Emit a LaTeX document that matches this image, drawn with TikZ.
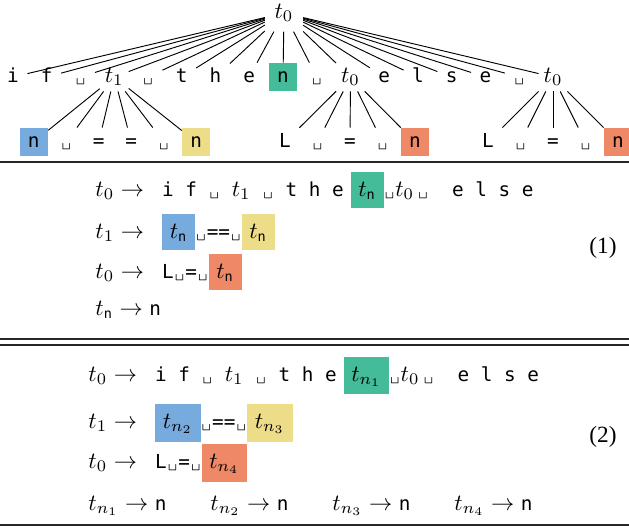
\documentclass[tikz,border=0pt]{standalone}
\usepackage{amsmath}
\usepackage{fontspec}
\setmonofont{DejaVu Sans Mono}[Scale=0.83]
\newfontfamily\lmtt{Latin Modern Mono}[Scale=0.72]
\newfontfamily\eqnfont{Liberation Serif}

\definecolor{tolmint}{HTML}{44BB99}
\definecolor{tolsky}{HTML}{77AADD}
\definecolor{tolsand}{HTML}{EEDD88}
\definecolor{tolcoral}{HTML}{EE8866}

\newcommand{\vs}{\makebox[5pt]{\lmtt\char"2423}}
\newcommand{\hl}[2]{{\setlength{\fboxsep}{3.3pt}\colorbox{#1}{\rule[-1.7pt]{0pt}{8.7pt}#2}}}

\begin{document}
\begin{tikzpicture}[
        x=0.43pt, y=-0.43pt,
        % tokens of the parse tree
        tok/.style={
            font=\ttfamily,
            minimum size=12pt,
            inner sep=0pt,
            text height=6pt,
            text depth=1.5pt
        },
        mint/.style={tok, fill=tolmint},
        sky/.style={tok, fill=tolsky},
        sand/.style={tok, fill=tolsand},
        coral/.style={tok, fill=tolcoral},
        % one rule of the grammar
        row/.style={font=\ttfamily, anchor=base west, inner sep=0pt},
        sep/.style={line width=0.7pt, black!85}
    ]
    \useasboundingbox (0,0) rectangle (629,527);

    % Parse tree
    \node[inner sep=4pt] (root) at (284,13) {$t_0$};
    \foreach \lab/\sty [count=\i] in {i/tok, f/tok, \vs/tok, {$t_1$}/tok, \vs/tok,
            t/tok, h/tok, e/tok, n/mint, \vs/tok, {$t_0$}/tok,
            e/tok, l/tok, s/tok, e/tok, \vs/tok, {$t_0$}/tok}
        \node[\sty] (a\i) at ({13+33.75*(\i-1)},77) {\lab};

    \foreach \lab/\sty [count=\j] in {n/sky, \vs/tok, =/tok, =/tok, \vs/tok, n/sand}
        \node[\sty] (b\j) at ({115+32.5*(\j-3.5)},142) {\lab};
    \foreach \lab/\sty [count=\j] in {L/tok, \vs/tok, =/tok, \vs/tok, n/coral}
        \node[\sty] (c\j) at ({350+32.5*(\j-3)},142) {\lab};
    \foreach \lab/\sty [count=\j] in {L/tok, \vs/tok, =/tok, \vs/tok, n/coral}
        \node[\sty] (d\j) at ({553+32.5*(\j-3)},142) {\lab};

    \foreach \i in {1,...,17}
        \draw (root) -- (a\i);
    \foreach \j in {1,...,6}
        \draw (a4) -- (b\j);
    \foreach \j in {1,...,5} {
        \draw (a11) -- (c\j);
        \draw (a17) -- (d\j);
    }

    % Rules between the blocks
    \draw[sep] (0,162) -- (629,162);
    \draw[sep] (0,339) -- (629,339);
    \draw[sep] (0,345) -- (629,345);
    \draw[sep] (0,525) -- (629,525);

    % Grammar (1)
    \node[row] (g1) at (95,196) {$t_0 \to{}$ i f \vs{} $t_1$ \vs{} t h e\hspace{3pt}\hl{tolmint}{$t_{\texttt{n}}$}\vs$t_0$\,\vs{}\ \ e l s e};
    \node[row] (g2) at (95,238) {$t_1 \to{}$ \hl{tolsky}{$t_{\texttt{n}}$}\vs==\vs\hl{tolsand}{$t_{\texttt{n}}$}};
    \node[row] (g3) at (95,278) {$t_0 \to{}$ L\vs=\vs\hl{tolcoral}{$t_{\texttt{n}}$}};
    \node[row] (g4) at (95,315) {$t_{\texttt{n}} \to \texttt{n}$};
    \node[font=\eqnfont] (eq1) at (603,248) {(1)};

    % Grammar (2)
    \node[row] (h1) at (88,381) {$t_0 \to{}$ i f \vs{} $t_1$ \vs{} t h e\hspace{3pt}\hl{tolmint}{$t_{n_1}$}\vs$t_0$\,\vs{}\ \ e l s e};
    \node[row] (h2) at (88,428) {$t_1 \to{}$ \hl{tolsky}{$t_{n_2}$}\vs==\vs\hl{tolsand}{$t_{n_3}$}};
    \node[row] (h3) at (88,468) {$t_0 \to{}$ L\vs=\vs\hl{tolcoral}{$t_{n_4}$}};
    \foreach \k in {1,...,4}
        \node[row] (p\k) at ({88+122*(\k-1)},510) {$t_{n_\k} \to \texttt{n}$};
    \node[font=\eqnfont] (eq2) at (603,437) {(2)};

\end{tikzpicture}
\end{document}
